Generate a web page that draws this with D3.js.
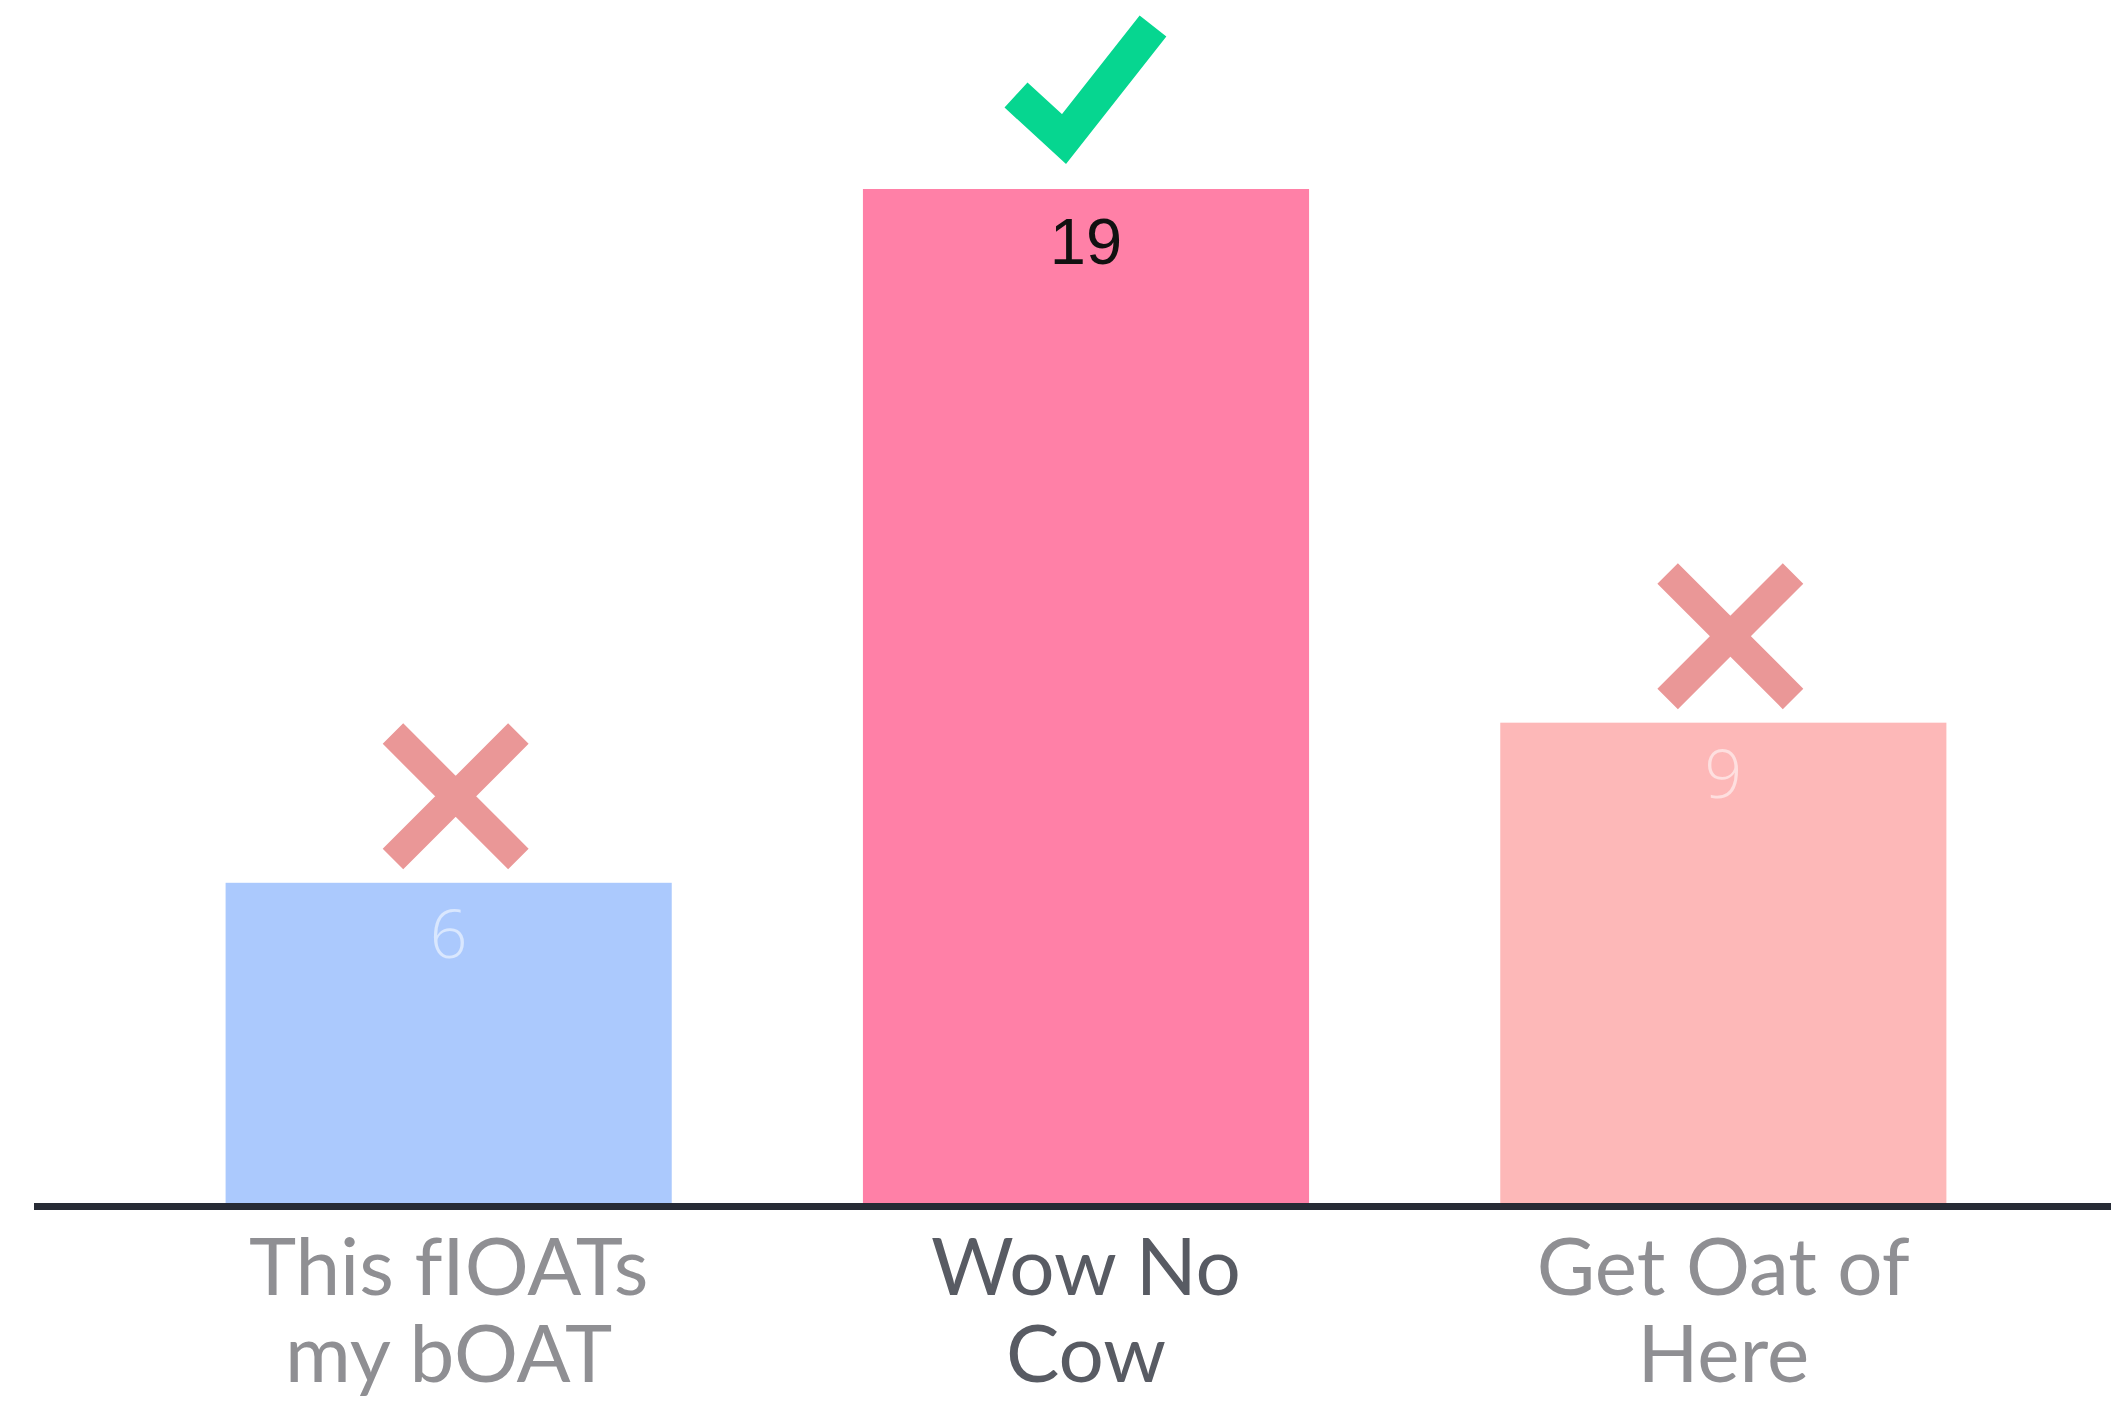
<!DOCTYPE html>
<html>
<head>
<meta charset="utf-8">
<script src="https://cdn.jsdelivr.net/npm/d3@7"></script>
<style>
    html, body { margin: 0; padding: 0; background: #ffffff; }
    #chart { width: 2111px; height: 1402px; }
</style>
</head>
<body>
<div id="chart"></div>
<script>
//Datos
const categories = ['This fIOATs my bOAT', 'Wow No Cow', 'Get Oat of Here'];
const labelLines = [['This fIOATs', 'my bOAT'], ['Wow No', 'Cow'], ['Get Oat of', 'Here']];
const values = [6, 19, 9];
const isCorrect = [false, true, false];

//Colores fijos
const COLOR_BLUE = '#abc9fd',
COLOR_PINK = '#ff80a7',
COLOR_SALMON = '#fdb8b8',
COLOR_CROSS = '#ea9797',
COLOR_CHECK = '#06d690',
COLOR_AXIS = '#272b35',
COLOR_LABEL = '#8f8f93',
COLOR_LABEL_ON = '#585b63';

let margin = {top: 189, right: 69, bottom: 199, left: 130},
    width = 2111 - margin.left - margin.right,
    height = 1402 - margin.top - margin.bottom;

let svg = d3.select('#chart')
    .append('svg')
        .attr('width', width + margin.left + margin.right)
        .attr('height', height + margin.top + margin.bottom)
    .append('g')
        .attr('transform', 'translate(' + margin.left + ',' + margin.top + ')');

let x = d3.scaleBand()
    .domain(categories)
    .range([0, width])
    .paddingInner(0.3)
    .paddingOuter(0.15);

let y = d3.scaleLinear()
    .domain([0, d3.max(values)])
    .range([height, 0]);

let color = d3.scaleOrdinal()
    .domain(categories)
    .range([COLOR_BLUE, COLOR_PINK, COLOR_SALMON]);

let data = categories.map(function(c, i) {
    return {cat: c, value: values[i], lines: labelLines[i], ok: isCorrect[i]};
});

//Barras
svg.append('g')
    .selectAll('rect')
    .data(data)
    .enter()
    .append('rect')
    .attr('x', function(d) { return x(d.cat); })
    .attr('y', function(d) { return y(d.value); })
    .attr('width', x.bandwidth())
    .attr('height', function(d) { return height - y(d.value); })
    .attr('fill', function(d) { return color(d.cat); });

//Valores dentro de las barras
svg.append('g')
    .selectAll('text')
    .data(data)
    .enter()
    .append('text')
    .attr('x', function(d) { return x(d.cat) + x.bandwidth() / 2; })
    .attr('y', function(d) { return y(d.value) + 75; })
    .attr('text-anchor', 'middle')
    .style('font-family', function(d) { return d.ok ? '"Liberation Sans", Arial, sans-serif' : '"Open Sans", sans-serif'; })
    .style('font-size', function(d) { return d.ok ? '65px' : '66px'; })
    .style('font-weight', function(d) { return d.ok ? 400 : 300; })
    .attr('fill', function(d) { return d.ok ? '#111111' : '#ffffff'; })
    .attr('fill-opacity', function(d) { return d.ok ? 1 : 0.55; })
    .text(function(d) { return d.value; });

//Eje X
let axis = svg.append('g')
    .attr('transform', 'translate(0,' + height + ')')
    .call(d3.axisBottom(x).tickSize(0).tickFormat(''));

axis.select('.domain').remove();

axis.append('line')
    .attr('x1', -96)
    .attr('x2', width + margin.right)
    .attr('y1', 3.5)
    .attr('y2', 3.5)
    .attr('stroke', COLOR_AXIS)
    .attr('stroke-width', 7);

let labels = axis.selectAll('.tick')
    .data(data)
    .append('text')
    .attr('text-anchor', 'middle')
    .attr('fill', function(d) { return d.ok ? COLOR_LABEL_ON : COLOR_LABEL; })
    .style('font-family', 'Lato, "Noto Sans", sans-serif')
    .style('font-weight', 400)
    .style('font-size', '80px');

labels.selectAll('tspan')
    .data(function(d) { return d.lines; })
    .enter()
    .append('tspan')
    .attr('x', 0)
    .attr('y', function(d, i) { return 92 + i * 87; })
    .text(function(d) { return d; });

//Marcas: check verde o cruz
let marks = svg.append('g')
    .selectAll('g')
    .data(data)
    .enter()
    .append('g')
    .attr('transform', function(d) {
        let cx = x(d.cat) + x.bandwidth() / 2;
        return d.ok ? 'translate(' + cx + ',' + y(d.value) + ')'
                    : 'translate(' + (cx + 7) + ',' + (y(d.value) - 86.5) + ')';
    });

marks.filter(function(d) { return d.ok; })
    .append('path')
    .attr('d', 'M-70,-94 L-22,-50 L67,-163')
    .attr('fill', 'none')
    .attr('stroke', COLOR_CHECK)
    .attr('stroke-width', 34)
    .attr('stroke-linejoin', 'miter');

marks.filter(function(d) { return !d.ok; })
    .append('path')
    .attr('d', 'M-62.7,-62.7 L62.7,62.7 M62.7,-62.7 L-62.7,62.7')
    .attr('fill', 'none')
    .attr('stroke', COLOR_CROSS)
    .attr('stroke-width', 29);
</script>
</body>
</html>
